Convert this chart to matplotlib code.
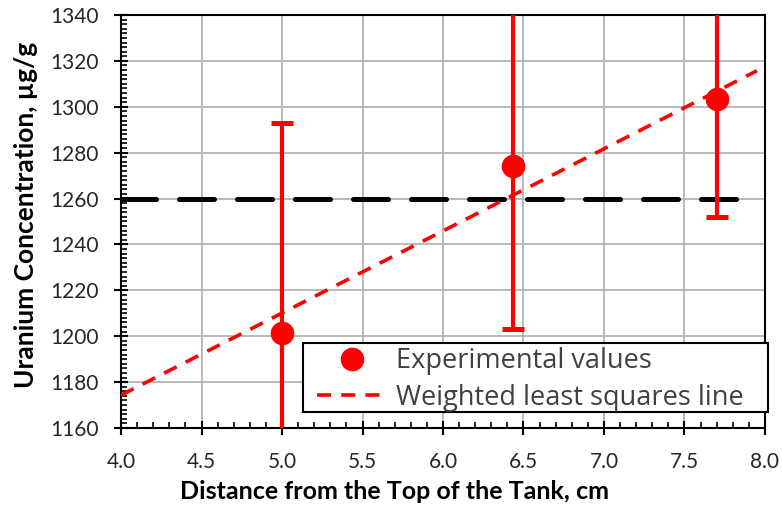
import matplotlib
matplotlib.use("Agg")
import matplotlib.pyplot as plt
from matplotlib.ticker import MultipleLocator, FormatStrFormatter
from matplotlib.lines import Line2D
from matplotlib.patches import Rectangle

plt.rcParams['font.family'] = ['Lato', 'DejaVu Sans']

# Data
x_exp = [5.0, 6.437, 7.70]
y_exp = [1201.3, 1274.2, 1303.3]
y_err = [91.5, 71.0, 51.4]
fit_x = [4.0, 7.95]
fit_y = [1174.3, 1315.7]
ref_x = [4.0, 7.89]
ref_y = [1260, 1260]
labels = ['Experimental values', 'Weighted least squares line']

W, H = 782, 508
fig = plt.figure(figsize=(W / 100, H / 100), dpi=100)
ax = fig.add_axes([121 / W, 1 - 428 / H, 644 / W, 413 / H])

ax.set_xlim(4.0, 8.0)
ax.set_ylim(1160, 1340)
ax.xaxis.set_major_locator(MultipleLocator(0.5))
ax.xaxis.set_minor_locator(MultipleLocator(0.1))
ax.yaxis.set_major_locator(MultipleLocator(20))
ax.yaxis.set_minor_locator(MultipleLocator(2))
ax.xaxis.set_major_formatter(FormatStrFormatter('%.1f'))
ax.grid(True, which='major', color='#b4b4b4', linewidth=1.3, zorder=0)
ax.set_axisbelow(True)

ax.plot(ref_x, ref_y, color='black', linewidth=3.6, dashes=(7, 4.6),
        dash_capstyle='round', solid_capstyle='round', zorder=2)
ax.plot(fit_x, fit_y, color='#ff0000', linewidth=2.6, dashes=(3.9, 2.8), zorder=3)
ax.errorbar(x_exp, y_exp, yerr=y_err, fmt='o', color='#ff0000', markersize=16,
            elinewidth=3, capsize=8, capthick=3.6, zorder=4)

for s in ax.spines.values():
    s.set_linewidth(1.5)
    s.set_color('black')
ax.tick_params(which='major', direction='inout', length=9.5, width=1.5, labelsize=15,
               labelcolor='#262626')
ax.tick_params(axis='x', which='major', pad=12.5)
ax.tick_params(axis='y', which='major', pad=11)
ax.tick_params(which='minor', direction='in', length=4.5, width=1.2)

ax.set_xlabel('Distance from the Top of the Tank, cm', fontsize=18, fontweight='bold')
ax.set_ylabel('Uranium Concentration, µg/g', fontsize=19, fontweight='bold')
ax.xaxis.set_label_coords(0.424, -0.126)
ax.yaxis.set_label_coords(-0.129, 0.515)

# legend frame
rect = Rectangle((303 / W, 1 - 412 / H), 465 / W, 69 / H, transform=fig.transFigure,
                 facecolor='white', edgecolor='black', linewidth=1.5,
                 clip_on=False, zorder=4.8)
ax.add_patch(rect)

h_exp = Line2D([], [], marker='o', color='#ff0000', linestyle='none', markersize=16)
h_fit = Line2D([], [], color='#ff0000', linewidth=2.6, dashes=(3.9, 2.8))
leg = ax.legend([h_exp, h_fit], labels, loc='upper left',
                bbox_to_anchor=(317 / W, 1 - 347 / H), bbox_transform=fig.transFigure,
                prop={'family': ['Open Sans', 'DejaVu Sans'], 'size': 19.5},
                frameon=False, borderpad=0, borderaxespad=0,
                handlelength=2.6, handletextpad=0.33, labelspacing=0.33)
leg.set_zorder(5)
for t in leg.get_texts():
    t.set_color('#404040')

fig.savefig('out.png', dpi=100)
